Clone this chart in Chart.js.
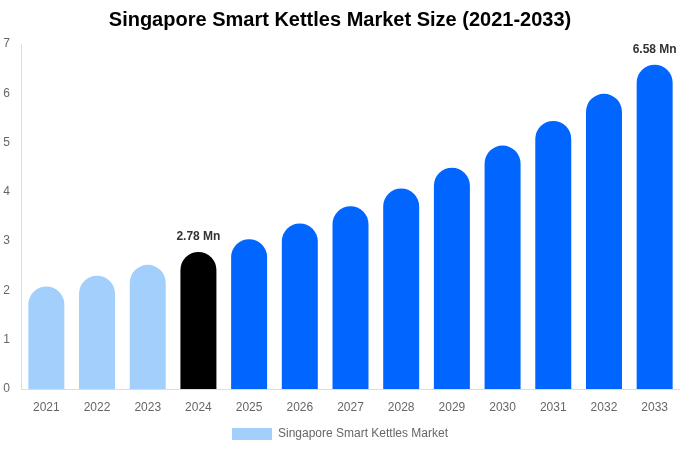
<!DOCTYPE html>
<html>
<head>
<meta charset="utf-8">
<script src="https://cdn.jsdelivr.net/npm/chart.js@4"></script>
<style>
  html, body { margin: 0; padding: 0; background: #fff; }
  #wrap { width: 680px; height: 450px; }
</style>
</head>
<body>
<div id="wrap"><canvas id="barChartKettles" width="680" height="450"></canvas></div>
<script>
var years = ['2021', '2022', '2023', '2024', '2025', '2026', '2027', '2028', '2029', '2030', '2031', '2032', '2033'];
var marketSize = [2.08, 2.30, 2.52, 2.78, 3.04, 3.36, 3.71, 4.07, 4.49, 4.94, 5.44, 5.99, 6.58];
var yTicks = [0, 1, 2, 3, 4, 5, 6, 7];
var labelledYears = ['2024', '2033'];

//colores: historico celeste, año base negro, pronostico azul
var barColors = years.map(function (y) {
    if (y < '2024') return '#a3cffc';
    if (y === '2024') return '#000000';
    return '#0066ff';
});

//etiquetas de valor sobre algunas barras
var valueLabels = {
    id: 'valueLabels',
    afterDatasetsDraw: function (chart) {
        var ctx = chart.ctx;
        var meta = chart.getDatasetMeta(0);
        ctx.save();
        ctx.font = 'bold 12px "Liberation Sans", Arial, sans-serif';
        ctx.fillStyle = '#333';
        ctx.textAlign = 'center';
        ctx.textBaseline = 'bottom';
        meta.data.forEach(function (bar, i) {
            if (labelledYears.indexOf(years[i]) < 0) return;
            ctx.fillText(marketSize[i].toFixed(2) + ' Mn', bar.x, bar.y - 9);
        });
        ctx.restore();
    }
};

Chart.defaults.font.family = '"Liberation Sans", Arial, sans-serif';

new Chart(document.getElementById('barChartKettles').getContext('2d'), {
    type: 'bar',
    data: {
        labels: years,
        datasets: [{
            label: 'Singapore Smart Kettles Market',
            data: marketSize,
            backgroundColor: barColors,
            borderWidth: 0,
            borderRadius: { topLeft: 18, topRight: 18, bottomLeft: 0, bottomRight: 0 },
            borderSkipped: false,
            barPercentage: 0.71,
            categoryPercentage: 1
        }]
    },
    options: {
        responsive: false,
        animation: false,
        layout: { padding: 0 },
        plugins: {
            title: {
                display: true,
                text: 'Singapore Smart Kettles Market Size (2021-2033)',
                color: '#000',
                font: { size: 20, weight: 'bold' },
                padding: { top: 8, bottom: 12 }
            },
            legend: {
                position: 'bottom',
                labels: { boxWidth: 40, boxHeight: 12, color: '#666', font: { size: 12 }, padding: 10 }
            },
            tooltip: { enabled: false }
        },
        scales: {
            x: {
                grid: { display: false, drawTicks: false },
                border: { display: true, color: '#ddd' },
                ticks: { color: '#666', font: { size: 12 }, padding: 11 },
                afterFit: function (axis) { axis.height = 29; }
            },
            y: {
                min: 0,
                max: 7,
                afterBuildTicks: function (axis) {
                    axis.ticks = yTicks.map(function (v) { return { value: v }; });
                },
                grid: { display: false, drawTicks: false },
                border: { display: true, color: '#ddd' },
                ticks: { color: '#666', font: { size: 12 }, padding: 11 },
                afterFit: function (axis) { axis.width = 21; }
            }
        }
    },
    plugins: [valueLabels]
});
</script>
</body>
</html>
